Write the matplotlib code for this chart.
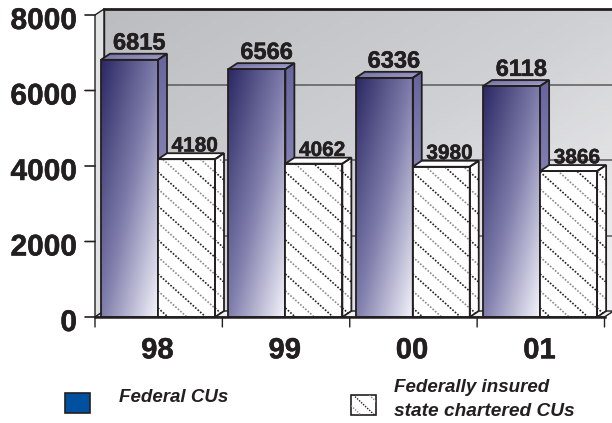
import numpy as np
import matplotlib
matplotlib.use("Agg")
from matplotlib import pyplot as plt
from matplotlib import patheffects as pe
from matplotlib.colors import LinearSegmentedColormap
from matplotlib.patches import Polygon, Rectangle

plt.rcParams['font.family'] = ['Liberation Sans', 'DejaVu Sans']

years = ['98', '99', '00', '01']
federal = [6815, 6566, 6336, 6118]
state = [4180, 4062, 3980, 3866]
y_ticks = [0, 2000, 4000, 6000, 8000]
legend_federal = 'Federal CUs'
legend_state = ['Federally insured', 'state chartered CUs']

INK = '#231f20'
W, H = 612, 423
AX_L, AX_R, AX_T, AX_B = 95, 604.5, 15, 317
PX_X = (AX_R - AX_L) / len(years)
PX_Y = (AX_B - AX_T) / 8000
DX = 9 / PX_X      # depth of the fake 3d, in data units
DY = 6 / PX_Y
BAR_W = 57 / PX_X
GAP = 6 / PX_X
HEAVY = [pe.withStroke(linewidth=0.35, foreground=INK)]

bar_cmap = LinearSegmentedColormap.from_list('bar', ['#2c2864', '#7f7dab', '#f2f2fa'])
side_cmap = LinearSegmentedColormap.from_list('side', ['#67659d', '#8a88b8', '#d8d8ea'])
top_cmap = LinearSegmentedColormap.from_list('top', ['#6b699f', '#a9a8cc'])
wall_cmap = LinearSegmentedColormap.from_list('wall', ['#bcbdc1', '#d0d1d4', '#f3f3f5'])

fig = plt.figure(figsize=(W / 100, H / 100), dpi=100)
ax = fig.add_axes([AX_L / W, 1 - AX_B / H, (AX_R - AX_L) / W, (AX_B - AX_T) / H])
ax.set_xlim(0, len(years))
ax.set_ylim(0, 8000)
ax.axis('off')


def gradient(poly_pts, cmap, diagonal=True, zorder=1):
    pts = np.array(poly_pts)
    poly = Polygon(pts, closed=True, fc='none', ec='none', zorder=zorder, clip_on=False)
    ax.add_patch(poly)
    # image row 0 is the top, so this runs dark top left to light bottom right
    xx, yy = np.meshgrid(np.linspace(0, 1, 80), np.linspace(0, 1, 80))
    g = (xx + yy) / 2 if diagonal else yy
    im = ax.imshow(g, cmap=cmap, aspect='auto', zorder=zorder, vmin=0, vmax=1,
                   extent=(pts[:, 0].min(), pts[:, 0].max(), pts[:, 1].min(), pts[:, 1].max()))
    im.set_clip_path(poly)
    im.set_clip_box(fig.bbox)


def outline(poly_pts, zorder, lw=1.3, fc='none'):
    ax.add_patch(Polygon(poly_pts, closed=True, fc=fc, ec=INK, lw=lw, zorder=zorder, clip_on=False))


def hatch(poly_pts, zorder):
    pts = np.array(poly_pts)
    poly = Polygon(pts, closed=True, fc='white', ec='none', zorder=zorder, clip_on=False)
    ax.add_patch(poly)
    x0, x1 = pts[:, 0].min(), pts[:, 0].max()
    y0, y1 = pts[:, 1].min(), pts[:, 1].max()
    drop = (x1 - x0) * PX_X * 0.9 / PX_Y
    step = 17 / PX_Y
    n = 0
    for c in np.arange(y0 + 9 / PX_Y, y1 + drop + step, step):
        color = INK if n % 2 == 0 else '#8a8a8a'
        ln, = ax.plot([x0, x1], [c, c - drop], color=color, lw=1.2, ls=(0, (1, 1)), zorder=zorder)
        ln.set_clip_path(poly)
        ln.set_clip_box(fig.bbox)
        n += 1


def bar3d(x, value, face, zorder):
    front = [(x, 0), (x + BAR_W, 0), (x + BAR_W, value), (x, value)]
    top = [(x, value), (x + BAR_W, value), (x + BAR_W + DX, value + DY), (x + DX, value + DY)]
    side = [(x + BAR_W, 0), (x + BAR_W + DX, DY), (x + BAR_W + DX, value + DY), (x + BAR_W, value)]
    if face == 'gradient':
        gradient(side, side_cmap, diagonal=False, zorder=zorder)
        gradient(top, top_cmap, zorder=zorder)
        gradient(front, bar_cmap, zorder=zorder + 0.1)
    else:
        hatch(side, zorder)
        ax.add_patch(Polygon(top, closed=True, fc='white', ec='none', zorder=zorder, clip_on=False))
        hatch(front, zorder + 0.1)
    outline(side, zorder + 0.2)
    outline(top, zorder + 0.2)
    outline(front, zorder + 0.3)


n_cat = len(years)
# back wall, left wall, floor
wall = [(DX, DY), (n_cat + DX, DY), (n_cat + DX, 8000 + DY), (DX, 8000 + DY)]
gradient(wall, wall_cmap, zorder=1)
left = [(0, 0), (DX, DY), (DX, 8000 + DY), (0, 8000)]
ax.add_patch(Polygon(left, closed=True, fc='#e0e2e4', ec=INK, lw=1.0, zorder=1.5, clip_on=False))
floor = [(0, 0), (n_cat, 0), (n_cat + DX, DY), (DX, DY)]
ax.add_patch(Polygon(floor, closed=True, fc='#f1f1f1', ec=INK, lw=1.0, zorder=1.5, clip_on=False))
ax.plot([DX, n_cat + DX], [8000 + DY, 8000 + DY], color=INK, lw=2, zorder=2, clip_on=False)
ax.plot([DX, DX], [DY, 8000 + DY], color=INK, lw=1.0, zorder=2, clip_on=False)

for t in y_ticks[1:-1]:
    ax.plot([DX, n_cat + DX], [t + DY, t + DY], color='#5a5a5a', lw=1.1, zorder=2, clip_on=False)

for i in range(n_cat):
    bar3d(i + GAP, federal[i], 'gradient', 3 + i)
    bar3d(i + GAP + BAR_W, state[i], 'hatch', 3.5 + i)
    ax.annotate(str(federal[i]), (i + GAP + BAR_W / 2, federal[i]), xytext=(7, 12),
                textcoords='offset points', ha='center', va='center', fontsize=17,
                fontweight='bold', color=INK, zorder=20, annotation_clip=False, path_effects=HEAVY)
    ax.annotate(str(state[i]), (i + GAP + BAR_W * 1.5, state[i]), xytext=(6, 9.5),
                textcoords='offset points', ha='center', va='center', fontsize=15,
                fontweight='bold', color=INK, zorder=20, annotation_clip=False, path_effects=HEAVY)
    ax.annotate(years[i], (i + 0.5, 0), xytext=(-1, -24), textcoords='offset points',
                ha='center', va='center', fontsize=21, fontweight='bold', color=INK,
                annotation_clip=False, path_effects=HEAVY)

# ticks
ax.plot([0, n_cat], [0, 0], color=INK, lw=1.8, zorder=15, clip_on=False)
for t in y_ticks:
    ax.annotate('', (0, t), xytext=(-10, 0), textcoords='offset pixels',
                arrowprops=dict(arrowstyle='-', color=INK, lw=1.2, shrinkA=0, shrinkB=0),
                annotation_clip=False)
    ax.annotate(str(t), (0, t), xytext=(-18, -6), textcoords='offset pixels', ha='right',
                va='center', fontsize=21.5, fontweight='bold', color=INK, annotation_clip=False,
                path_effects=HEAVY)
for i in range(n_cat + 1):
    ax.annotate('', (i, 0), xytext=(0, -10), textcoords='offset pixels',
                arrowprops=dict(arrowstyle='-', color=INK, lw=1.0, shrinkA=0, shrinkB=0),
                annotation_clip=False)

# legend in plain pixel coordinates
lax = fig.add_axes([0, 0, 1, 1], facecolor='none')
lax.set_xlim(0, W)
lax.set_ylim(H, 0)
lax.axis('off')
lax.add_patch(Rectangle((65, 393), 25, 20, fc='#0050a0', ec=INK, lw=1.2))
sw = Rectangle((351, 395), 25, 20, fc='white', ec=INK, lw=1.2)
lax.add_patch(sw)
for c, col in zip([372, 387, 400], ['#8a8a8a', INK, '#8a8a8a']):
    ln, = lax.plot([345, 385], [c, c + 38], color=col, lw=1.0, ls=(0, (1, 1)))
    ln.set_clip_path(sw)
lax.text(119, 397, legend_federal, fontsize=13.5, fontweight='bold', fontstyle='italic',
         color=INK, va='center', ha='left')
lax.text(394, 388, legend_state[0], fontsize=13.5, fontweight='bold', fontstyle='italic',
         color=INK, va='center', ha='left')
lax.text(394, 412, legend_state[1], fontsize=13.8, fontweight='bold', fontstyle='italic',
         color=INK, va='center', ha='left')

fig.savefig('out.png', dpi=100)
